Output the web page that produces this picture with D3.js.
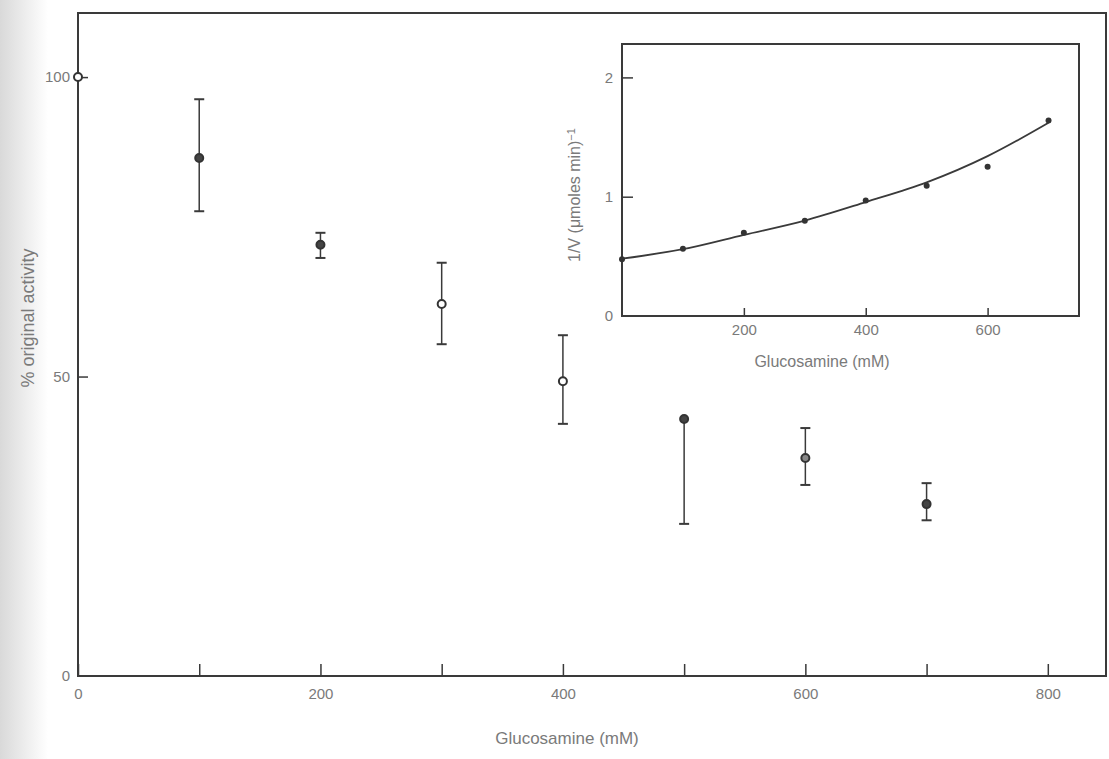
<!DOCTYPE html>
<html>
<head>
<meta charset="utf-8">
<script src="https://cdn.jsdelivr.net/npm/d3@7"></script>
<style>
  body { margin: 0; background: #fff; }
  text { font-family: "Liberation Sans", Arial, sans-serif; }
</style>
</head>
<body>
<div class="chart"></div>
<script>
// main panel data: % original activity vs glucosamine
var conc = [0, 100, 200, 300, 400, 500, 600, 700];
var activity = [100, 86.5, 72.0, 62.1, 49.2, 42.9, 36.4, 28.7];
var errHigh = [100, 96.3, 74.0, 69.0, 56.9, 42.9, 41.4, 32.2];
var errLow = [100, 77.6, 69.8, 55.4, 42.1, 25.4, 31.9, 26.0];
var markerFill = ["open", "filled", "filled", "open", "open", "filled", "half", "filled"];
var xTicks = [0, 100, 200, 300, 400, 500, 600, 700, 800];
var yTicks = [0, 50, 100];

// inset data: 1/v vs glucosamine
var insetConc = [0, 100, 200, 300, 400, 500, 600, 700];
var insetRecip = [0.476, 0.563, 0.697, 0.798, 0.969, 1.092, 1.252, 1.639];
var curveConc = [0, 100, 200, 300, 400, 500, 600, 700];
var curveRecip = [0.48, 0.56, 0.68, 0.80, 0.955, 1.12, 1.34, 1.62];
var insetXTicks = [200, 400, 600];
var insetYTicks = [0, 1, 2];

var svgWidth = 1109;
var svgHeight = 759;
var ink = "#3a3a3a";
var textColor = "#7a7a7a";

var $svg = d3.select(".chart")
    .append("svg")
    .attr("width", svgWidth)
    .attr("height", svgHeight);

// scan shadow on the left edge
var grad = $svg.append("defs").append("linearGradient")
    .attr("id", "shade")
    .attr("x1", "0").attr("x2", "1").attr("y1", "0").attr("y2", "0");
grad.append("stop").attr("offset", "0").attr("stop-color", "#d9d9d9");
grad.append("stop").attr("offset", "1").attr("stop-color", "#ffffff");
$svg.append("rect").attr("x", 0).attr("y", 0).attr("width", 48).attr("height", svgHeight)
    .attr("fill", "url(#shade)");

// ---- main panel ----
var xScale = d3.scaleLinear().domain([0, 848]).range([78, 1106]);
var yScale = d3.scaleLinear().domain([0, 110.7]).range([676, 13]);

$svg.append("rect")
    .attr("x", xScale(0)).attr("y", yScale(110.7))
    .attr("width", xScale(848) - xScale(0))
    .attr("height", yScale(0) - yScale(110.7))
    .attr("fill", "none").attr("stroke", ink).attr("stroke-width", 2);

var xAxis = d3.axisBottom(xScale)
    .tickValues(xTicks)
    .tickSizeInner(-12).tickSizeOuter(0).tickPadding(12)
    .tickFormat(d => d % 200 == 0 ? d : "");
var gx = $svg.append("g").attr("transform", `translate(0,${yScale(0)})`).call(xAxis);

var yAxis = d3.axisLeft(yScale)
    .tickValues(yTicks)
    .tickSizeInner(-10).tickSizeOuter(0).tickPadding(8);
var gy = $svg.append("g").attr("transform", `translate(${xScale(0)},0)`).call(yAxis);

[gx, gy].forEach(g => {
    g.select(".domain").remove();
    g.selectAll("line").attr("stroke", ink).attr("stroke-width", 1.5);
    g.selectAll("text").attr("fill", textColor).style("font-size", "15px");
});
gy.selectAll(".tick").filter(d => d == 0).select("line").remove();

var mainData = conc.map((d, i) => ({x: d, y: activity[i], hi: errHigh[i], lo: errLow[i], m: markerFill[i]}));

var $pts = $svg.selectAll(".pt").data(mainData).enter().append("g").attr("class", "pt");

$pts.filter(d => d.hi != d.lo).append("line")
    .attr("x1", d => xScale(d.x)).attr("x2", d => xScale(d.x))
    .attr("y1", d => yScale(d.hi)).attr("y2", d => yScale(d.lo))
    .attr("stroke", ink).attr("stroke-width", 1.5);
$pts.filter(d => d.hi != d.y).append("line")
    .attr("x1", d => xScale(d.x) - 5).attr("x2", d => xScale(d.x) + 5)
    .attr("y1", d => yScale(d.hi)).attr("y2", d => yScale(d.hi))
    .attr("stroke", ink).attr("stroke-width", 2);
$pts.filter(d => d.lo != d.y).append("line")
    .attr("x1", d => xScale(d.x) - 5).attr("x2", d => xScale(d.x) + 5)
    .attr("y1", d => yScale(d.lo)).attr("y2", d => yScale(d.lo))
    .attr("stroke", ink).attr("stroke-width", 2);

$pts.append("circle")
    .attr("cx", d => xScale(d.x)).attr("cy", d => yScale(d.y))
    .attr("r", 4)
    .attr("fill", d => d.m == "filled" ? "#444" : (d.m == "half" ? "#888" : "#fff"))
    .attr("stroke", "#333").attr("stroke-width", 2);

$svg.append("text")
    .attr("x", 567).attr("y", 744)
    .attr("text-anchor", "middle")
    .attr("fill", textColor)
    .style("font-size", "17px")
    .text("Glucosamine (mM)");

$svg.append("text")
    .attr("transform", "translate(34,318) rotate(-90)")
    .attr("text-anchor", "middle")
    .attr("fill", textColor)
    .style("font-size", "18px")
    .text("% original activity");

// ---- inset ----
var ixScale = d3.scaleLinear().domain([0, 750]).range([622, 1079]);
var iyScale = d3.scaleLinear().domain([0, 2.28]).range([316, 44]);

$svg.append("rect")
    .attr("x", ixScale(0)).attr("y", iyScale(2.28))
    .attr("width", ixScale(750) - ixScale(0))
    .attr("height", iyScale(0) - iyScale(2.28))
    .attr("fill", "#fff").attr("stroke", ink).attr("stroke-width", 2);

var igx = $svg.append("g").attr("transform", `translate(0,${iyScale(0)})`)
    .call(d3.axisBottom(ixScale).tickValues(insetXTicks).tickSizeInner(-8).tickSizeOuter(0).tickPadding(8));
var igy = $svg.append("g").attr("transform", `translate(${ixScale(0)},0)`)
    .call(d3.axisLeft(iyScale).tickValues(insetYTicks).tickFormat(d3.format("d"))
        .tickSizeInner(-11).tickSizeOuter(0).tickPadding(9));

[igx, igy].forEach(g => {
    g.select(".domain").remove();
    g.selectAll("line").attr("stroke", ink).attr("stroke-width", 1.5);
    g.selectAll("text").attr("fill", textColor).style("font-size", "15px");
});
igy.selectAll(".tick").filter(d => d == 0).select("line").remove();

var curveData = curveConc.map((d, i) => [d, curveRecip[i]]);
$svg.append("path")
    .datum(curveData)
    .attr("fill", "none")
    .attr("stroke", ink)
    .attr("stroke-width", 1.8)
    .attr("d", d3.line().x(d => ixScale(d[0])).y(d => iyScale(d[1])).curve(d3.curveMonotoneX));

$svg.selectAll(".ipt").data(insetConc.map((d, i) => [d, insetRecip[i]])).enter()
    .append("circle")
    .attr("class", "ipt")
    .attr("cx", d => ixScale(d[0])).attr("cy", d => iyScale(d[1]))
    .attr("r", 3)
    .attr("fill", "#333");

$svg.append("text")
    .attr("x", 822).attr("y", 367)
    .attr("text-anchor", "middle")
    .attr("fill", textColor)
    .style("font-size", "16px")
    .text("Glucosamine (mM)");

var ylab = $svg.append("text")
    .attr("transform", "translate(580,195) rotate(-90)")
    .attr("text-anchor", "middle")
    .attr("fill", textColor)
    .style("font-size", "16px");
ylab.append("tspan").text("1/V (μmoles min)");
ylab.append("tspan").attr("dy", "-0.5em").style("font-size", "11px").text("−1");
</script>
</body>
</html>
